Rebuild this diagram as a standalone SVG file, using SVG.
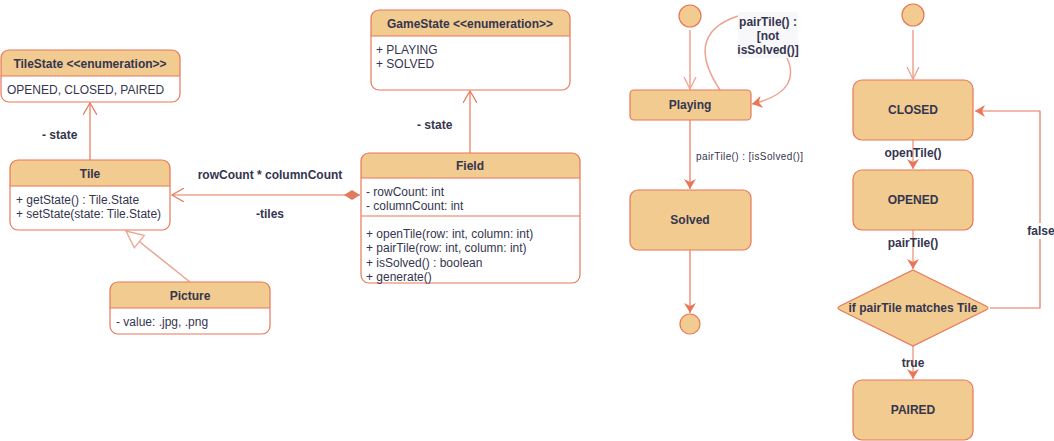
<svg xmlns="http://www.w3.org/2000/svg" width="1054" height="441" viewBox="0 0 1054 441">
<style>
text{font-family:"Liberation Sans",Arial,sans-serif;fill:#35354f;}
.t{font-size:12px;font-weight:bold;text-anchor:middle;}
.m{font-size:12px;}
.lb{font-size:12px;font-weight:bold;}
.hd{fill:#f1cb8f;stroke:none;}
.box{fill:none;stroke:#e8775a;stroke-width:1.2;}
.st{fill:#f1cb8f;stroke:#e8775a;stroke-width:1.2;}
.ln{fill:none;stroke:#e8775a;stroke-width:1.2;}
.lt{fill:none;stroke:#eea390;stroke-width:1.5;}
</style>
<defs>
<marker id="open" markerWidth="14" markerHeight="14" refX="12" refY="7" orient="auto" markerUnits="userSpaceOnUse"><path d="M0,0 L12,7 L0,14" fill="none" stroke="#e8775a" stroke-width="1.2"/></marker>
<marker id="openl" markerWidth="14" markerHeight="14" refX="12" refY="7" orient="auto" markerUnits="userSpaceOnUse"><path d="M0,1 L12,7 L0,13" fill="none" stroke="#eea390" stroke-width="1.3"/></marker>
<marker id="fill" markerWidth="12" markerHeight="12" refX="10" refY="6" orient="auto" markerUnits="userSpaceOnUse"><path d="M0,0 L10,6 L0,12 L3,6 Z" fill="#e8775a"/></marker>
<marker id="diam" markerWidth="18" markerHeight="10" refX="0" refY="5" orient="auto" markerUnits="userSpaceOnUse"><path d="M0,5 L8,0 L16,5 L8,10 Z" fill="#e27a5e"/></marker>
<marker id="tri" markerWidth="22" markerHeight="20" refX="19" refY="9" orient="auto" markerUnits="userSpaceOnUse"><path d="M19,9 L2,1 L2,17 Z" fill="#fff" stroke="#eea390" stroke-width="1.3"/></marker>
</defs>

<g id="connectors">
<line class="ln" x1="90" y1="160" x2="90" y2="103" marker-end="url(#open)"/>
<line class="ln" x1="470" y1="153" x2="470" y2="91" marker-end="url(#open)"/>
<line class="ln" x1="360" y1="195" x2="172" y2="195" marker-start="url(#diam)" marker-end="url(#open)"/>
<line class="lt" x1="190" y1="282" x2="126" y2="231" marker-end="url(#tri)"/>
<line class="lt" x1="690" y1="30" x2="690" y2="89" marker-end="url(#openl)"/>
<path class="lt" d="M720,90 C700,60 695,30 738,16"/>
<path class="lt" d="M787,58 C795,75 792,95 752,104" marker-end="url(#fill)"/>
<line class="ln" x1="690" y1="120" x2="690" y2="189" marker-end="url(#fill)"/>
<line class="ln" x1="690" y1="250" x2="690" y2="313" marker-end="url(#fill)"/>
<line class="lt" x1="913" y1="30" x2="913" y2="79" marker-end="url(#openl)"/>
<line class="lt" x1="913" y1="140" x2="913" y2="169" marker-end="url(#fill)"/>
<line class="lt" x1="913" y1="230" x2="913" y2="269" marker-end="url(#fill)"/>
<line class="lt" x1="913" y1="346" x2="913" y2="379" marker-end="url(#fill)"/>
<path class="ln" d="M990,308 L1040,308 L1040,111 L975,111" marker-end="url(#fill)"/>
<text class="lb" x="42" y="139">- state</text>
<text class="lb" x="417" y="129">- state</text>
<text class="lb" x="270" y="179" text-anchor="middle">rowCount * columnCount</text>
<text class="lb" x="270" y="218" text-anchor="middle">-tiles</text>
<rect x="738" y="12" width="60" height="46" fill="#f8f8fa"/>
<text class="lb" x="768" y="26" text-anchor="middle">pairTile() :</text>
<text class="lb" x="768" y="40" text-anchor="middle">[not</text>
<text class="lb" x="768" y="54" text-anchor="middle">isSolved()]</text>
<text x="696" y="160" style="font-size:10px;letter-spacing:0.4px">pairTile() : [isSolved()]</text>
<text class="lb" x="913" y="157" text-anchor="middle">openTile()</text>
<text class="lb" x="913" y="247" text-anchor="middle">pairTile()</text>
<text class="lb" x="913" y="367" text-anchor="middle">true</text>
<rect x="1026" y="223" width="28" height="16" fill="#fff"/>
<text class="lb" x="1041" y="235" text-anchor="middle">false</text>
</g>

<g id="TileState">
<path class="hd" d="M1,76 L1,58 Q1,50 9,50 L172,50 Q180,50 180,58 L180,76 Z"/>
<rect class="box" x="1" y="50" width="179" height="52" rx="8"/>
<line class="ln" x1="1" y1="76" x2="180" y2="76"/>
<text class="t" x="90" y="68">TileState &lt;&lt;enumeration&gt;&gt;</text>
<text class="m" x="7" y="94">OPENED, CLOSED, PAIRED</text>
</g>

<g id="Tile">
<path class="hd" d="M10,186 L10,168 Q10,160 18,160 L162,160 Q170,160 170,168 L170,186 Z"/>
<rect class="box" x="10" y="160" width="160" height="70" rx="8"/>
<line class="ln" x1="10" y1="186" x2="170" y2="186"/>
<text class="t" x="90" y="178">Tile</text>
<text class="m" x="16" y="204">+ getState() : Tile.State</text>
<text class="m" x="16" y="218">+ setState(state: Tile.State)</text>
</g>

<g id="Picture">
<path class="hd" d="M110,308 L110,290 Q110,282 118,282 L262,282 Q270,282 270,290 L270,308 Z"/>
<rect class="box" x="110" y="282" width="160" height="52" rx="8"/>
<line class="ln" x1="110" y1="308" x2="270" y2="308"/>
<text class="t" x="190" y="300">Picture</text>
<text class="m" x="116" y="326">- value: .jpg, .png</text>
</g>

<g id="GameState">
<path class="hd" d="M371,36 L371,18 Q371,10 379,10 L562,10 Q570,10 570,18 L570,36 Z"/>
<rect class="box" x="371" y="10" width="199" height="80" rx="8"/>
<line class="ln" x1="371" y1="36" x2="570" y2="36"/>
<text class="t" x="470" y="28">GameState &lt;&lt;enumeration&gt;&gt;</text>
<text class="m" x="376" y="54">+ PLAYING</text>
<text class="m" x="376" y="68">+ SOLVED</text>
</g>

<g id="Field">
<path class="hd" d="M361,178 L361,161 Q361,153 369,153 L572,153 Q580,153 580,161 L580,178 Z"/>
<rect class="box" x="361" y="153" width="219" height="130" rx="8"/>
<line class="ln" x1="361" y1="178" x2="580" y2="178"/>
<line class="ln" x1="361" y1="216" x2="580" y2="216"/>
<text class="t" x="470" y="170">Field</text>
<text class="m" x="366" y="196">- rowCount: int</text>
<text class="m" x="366" y="210">- columnCount: int</text>
<text class="m" x="366" y="238">+ openTile(row: int, column: int)</text>
<text class="m" x="366" y="252">+ pairTile(row: int, column: int)</text>
<text class="m" x="366" y="267">+ isSolved() : boolean</text>
<text class="m" x="366" y="281">+ generate()</text>
</g>

<g id="init1"><circle class="st" cx="690" cy="16" r="11"/></g>
<g id="Playing">
<rect class="st" x="630" y="90" width="121" height="30" rx="4"/>
<text class="t" x="690" y="109">Playing</text>
</g>
<g id="Solved">
<rect class="st" x="630" y="190" width="121" height="60" rx="8"/>
<text class="t" x="690" y="224">Solved</text>
</g>
<g id="final1"><circle class="st" cx="690" cy="324" r="10"/></g>

<g id="init2"><circle class="st" cx="913" cy="15" r="11"/></g>
<g id="CLOSED">
<rect class="st" x="853" y="80" width="120" height="60" rx="9"/>
<text class="t" x="913" y="114">CLOSED</text>
</g>
<g id="OPENED">
<rect class="st" x="853" y="170" width="120" height="60" rx="9"/>
<text class="t" x="913" y="204">OPENED</text>
</g>
<g id="decision">
<path class="st" d="M913,270 L986,306 Q990,308 986,310 L913,346 L840,310 Q836,308 840,306 Z"/>
<text class="t" x="913" y="312">if pairTile matches Tile</text>
</g>
<g id="PAIRED">
<rect class="st" x="853" y="380" width="120" height="60" rx="9"/>
<text class="t" x="913" y="414">PAIRED</text>
</g>
</svg>
